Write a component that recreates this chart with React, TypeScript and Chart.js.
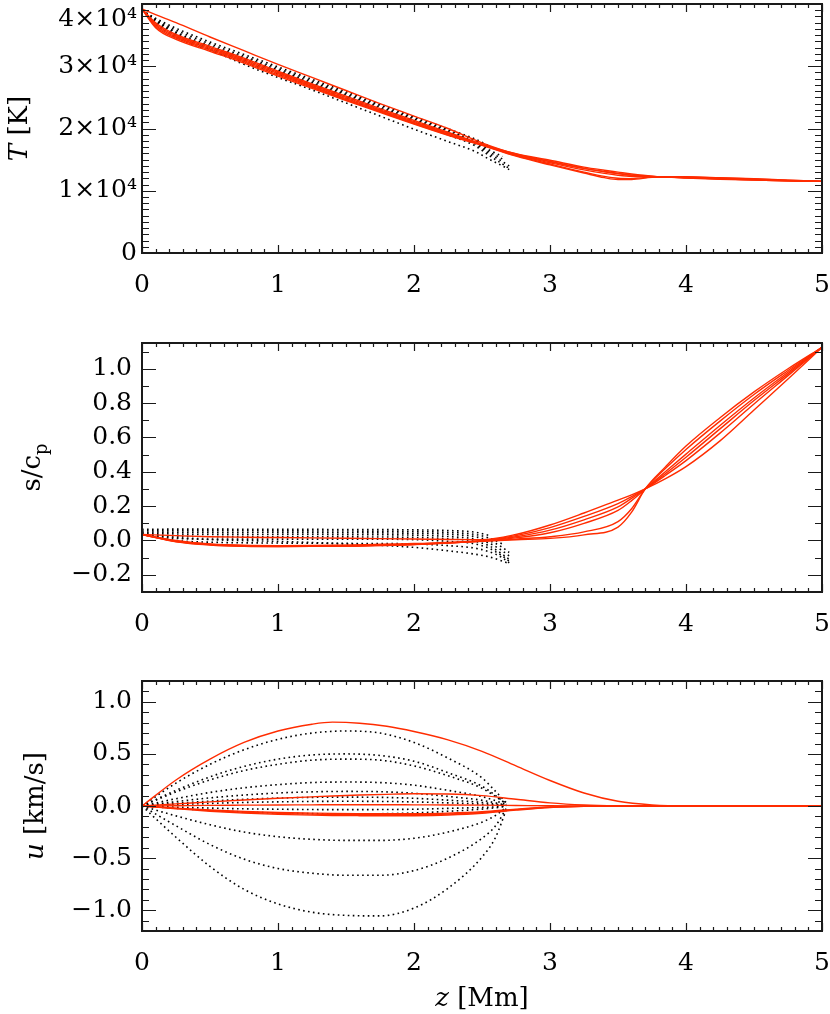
import { useEffect, useRef } from 'react';
import { Chart, registerables } from 'chart.js';

Chart.register(...registerables);

const RED = 'rgb(255,44,0)';
const FONT = '"DejaVu Serif", "Liberation Serif", serif';

// ---------- Panel 1: temperature T [K] ----------
const Z_T_RED = [0, 0.1, 0.25, 0.5, 0.75, 1, 1.25, 1.5, 1.75, 2, 2.25, 2.5, 2.75, 3, 3.25, 3.4, 3.5, 3.6, 3.75, 4, 4.25, 4.5, 4.75, 5];
const T_RED_1 = [39200, 38300, 37000, 34700, 32500, 30300, 28200, 26100, 24000, 22000, 20000, 17700, 15900, 14700, 13600, 13100, 12800, 12500, 12300, 12100, 11900, 11750, 11600, 11500];
const T_RED_2 = [39200, 37000, 35100, 33200, 31300, 29200, 27150, 25200, 23200, 21300, 19400, 17500, 15950, 14900, 13800, 13300, 13000, 12700, 12350, 12050, 11850, 11700, 11580, 11500];
const T_RED_3 = [39200, 36800, 34900, 33000, 31100, 29000, 26950, 25000, 23000, 21100, 19250, 17450, 15850, 14700, 13600, 13050, 12750, 12500, 12300, 12100, 11900, 11750, 11600, 11500];
const T_RED_4 = [39200, 36600, 34700, 32800, 30900, 28800, 26750, 24800, 22850, 20950, 19100, 17400, 15750, 14500, 13350, 12800, 12500, 12300, 12250, 12150, 11950, 11800, 11620, 11500];
const T_RED_5 = [39200, 36400, 34500, 32600, 30700, 28600, 26600, 24650, 22700, 20800, 19000, 17350, 15650, 14300, 13000, 12300, 12000, 11950, 12200, 12200, 12050, 11880, 11680, 11500];
const T_RED_6 = [39200, 36200, 34300, 32400, 30500, 28400, 26450, 24500, 22600, 20700, 18900, 17300, 15550, 14150, 12850, 12100, 11800, 11800, 12150, 12250, 12100, 11920, 11700, 11500];

const Z_T_DOT = [0, 0.1, 0.25, 0.5, 0.75, 1, 1.25, 1.5, 1.75, 2, 2.25, 2.45, 2.55, 2.65, 2.7];
const T_DOT_1 = [39000, 37700, 36100, 33900, 31900, 29900, 27900, 25900, 23900, 21900, 19950, 18300, 17200, null, null];
const T_DOT_2 = [39000, 37500, 35800, 33600, 31600, 29650, 27650, 25650, 23700, 21700, 19750, 18100, 16900, null, null];
const T_DOT_3 = [39000, 37300, 35500, 33300, 31350, 29400, 27400, 25450, 23450, 21500, 19550, 17900, 16600, 15500, null];
const T_DOT_4 = [39000, 37100, 35200, 33050, 31100, 29200, 27200, 25250, 23250, 21300, 19400, 17700, 16300, 15100, null];
const T_DOT_5 = [39000, 36900, 34900, 32800, 30900, 29000, 27000, 25050, 23050, 21100, 19200, 17500, 16000, 14700, 14000];
const T_DOT_6 = [39000, 36700, 34600, 32550, 30650, 28750, 26750, 24800, 22800, 20850, 18950, 17200, 15700, 14300, 13600];
const T_DOT_7 = [39000, 37400, 35400, 32700, 30300, 28200, 26200, 24100, 22000, 19900, 17900, 16300, 15100, 14000, 13400];

// ---------- Panel 2: entropy s/c_p ----------
const Z_S_RED = [0, 0.25, 0.5, 0.75, 1, 1.5, 2, 2.5, 2.75, 3, 3.25, 3.5, 3.6, 3.7, 3.85, 4, 4.25, 4.5, 4.75, 5];
const S_RED_1 = [0.035, 0.028, 0.022, 0.019, 0.017, 0.013, 0.009, 0.005, 0.035, 0.09, 0.16, 0.235, 0.265, 0.3, 0.36, 0.43, 0.58, 0.76, 0.94, 1.125];
const S_RED_2 = [0.035, 0.0, -0.02, -0.028, -0.03, -0.027, -0.018, 0.0, 0.028, 0.075, 0.14, 0.215, 0.255, 0.3, 0.38, 0.465, 0.625, 0.795, 0.96, 1.125];
const S_RED_3 = [0.035, -0.003, -0.022, -0.03, -0.032, -0.029, -0.02, -0.002, 0.022, 0.06, 0.12, 0.195, 0.245, 0.3, 0.39, 0.485, 0.65, 0.815, 0.97, 1.125];
const S_RED_4 = [0.035, -0.005, -0.024, -0.032, -0.034, -0.031, -0.022, -0.003, 0.015, 0.045, 0.1, 0.175, 0.232, 0.3, 0.402, 0.503, 0.67, 0.83, 0.98, 1.125];
const S_RED_5 = [0.035, -0.006, -0.025, -0.033, -0.035, -0.032, -0.023, -0.004, 0.008, 0.022, 0.05, 0.11, 0.185, 0.3, 0.42, 0.53, 0.695, 0.85, 0.99, 1.125];
const S_RED_6 = [0.035, -0.007, -0.026, -0.034, -0.036, -0.033, -0.024, -0.005, 0.004, 0.012, 0.033, 0.078, 0.165, 0.3, 0.43, 0.55, 0.715, 0.865, 1.0, 1.125];

const Z_S_DOT = [0, 0.25, 0.5, 1, 1.5, 2, 2.25, 2.45, 2.55, 2.65, 2.7];
const S_DOT_1 = [0.065, 0.066, 0.066, 0.065, 0.064, 0.062, 0.058, 0.048, 0.03, null, null];
const S_DOT_2 = [0.058, 0.057, 0.057, 0.056, 0.055, 0.052, 0.047, 0.035, 0.015, -0.02, null];
const S_DOT_3 = [0.05, 0.048, 0.047, 0.046, 0.045, 0.042, 0.036, 0.022, 0.0, -0.04, -0.07];
const S_DOT_4 = [0.045, 0.038, 0.036, 0.035, 0.034, 0.031, 0.023, 0.008, -0.015, -0.06, -0.09];
const S_DOT_5 = [0.04, 0.026, 0.023, 0.022, 0.021, 0.018, 0.01, -0.005, -0.03, -0.08, -0.11];
const S_DOT_6 = [0.035, 0.012, 0.008, 0.008, 0.008, 0.005, -0.005, -0.02, -0.045, -0.09, -0.12];
const S_DOT_7 = [0.035, 0.0, -0.01, -0.015, -0.017, -0.02, -0.03, -0.045, -0.065, -0.1, -0.13];
const S_DOT_8 = [0.035, 0.018, 0.005, -0.005, -0.02, -0.04, -0.06, -0.08, -0.095, -0.12, -0.135];

// ---------- Panel 3: velocity u [km/s] ----------
const Z_U_RED = [0, 0.25, 0.5, 0.75, 1, 1.25, 1.4, 1.6, 1.8, 2, 2.25, 2.5, 2.75, 3, 3.25, 3.5, 3.75, 4, 4.5, 5];
const U_RED_1 = [0, 0.25, 0.45, 0.61, 0.72, 0.785, 0.805, 0.795, 0.765, 0.715, 0.635, 0.525, 0.385, 0.245, 0.125, 0.045, 0.01, 0, 0, 0];
const U_RED_2 = [0, 0.02, 0.04, 0.058, 0.074, 0.088, 0.096, 0.105, 0.112, 0.117, 0.115, 0.1, 0.065, 0.03, 0.01, 0.002, 0, 0, 0, 0];
const U_RED_3 = [0, 0.003, 0.006, 0.008, 0.01, 0.011, 0.012, 0.012, 0.012, 0.011, 0.01, 0.008, 0.005, 0.002, 0.001, 0, 0, 0, 0, 0];
const U_RED_4 = [0, -0.02, -0.038, -0.052, -0.062, -0.068, -0.071, -0.073, -0.074, -0.073, -0.068, -0.055, -0.03, -0.01, -0.002, 0, 0, 0, 0, 0];
const U_RED_5 = [0, -0.023, -0.044, -0.06, -0.071, -0.078, -0.081, -0.083, -0.084, -0.083, -0.077, -0.062, -0.035, -0.012, -0.003, 0, 0, 0, 0, 0];
const U_RED_6 = [0, -0.026, -0.05, -0.068, -0.08, -0.088, -0.091, -0.093, -0.094, -0.093, -0.086, -0.07, -0.04, -0.015, -0.004, 0, 0, 0, 0, 0];

const Z_U_DOT = [0, 0.25, 0.5, 0.75, 1, 1.25, 1.5, 1.75, 2, 2.25, 2.5, 2.6, 2.68];
const U_DOT_1 = [0, 0.22, 0.4, 0.54, 0.64, 0.7, 0.72, 0.7, 0.61, 0.46, 0.27, 0.14, 0.03];
const U_DOT_2 = [0, 0.15, 0.28, 0.38, 0.45, 0.49, 0.5, 0.485, 0.43, 0.32, 0.19, 0.1, 0.02];
const U_DOT_3 = [0, 0.135, 0.25, 0.34, 0.4, 0.44, 0.45, 0.44, 0.385, 0.29, 0.17, 0.09, 0.02];
const U_DOT_4 = [0, 0.07, 0.13, 0.175, 0.205, 0.225, 0.23, 0.225, 0.2, 0.15, 0.09, 0.05, 0.01];
const U_DOT_5 = [0, 0.042, 0.078, 0.105, 0.125, 0.136, 0.14, 0.137, 0.122, 0.092, 0.055, 0.03, 0.006];
const U_DOT_6 = [0, 0.026, 0.047, 0.064, 0.076, 0.083, 0.085, 0.083, 0.074, 0.056, 0.034, 0.018, 0.004];
const U_DOT_7 = [0, 0.014, 0.025, 0.034, 0.04, 0.044, 0.045, 0.044, 0.039, 0.03, 0.018, 0.01, 0.002];
const U_DOT_8 = [0, -0.011, -0.02, -0.027, -0.031, -0.034, -0.035, -0.034, -0.031, -0.023, -0.014, -0.008, -0.001];
const U_DOT_9 = [0, -0.023, -0.042, -0.057, -0.067, -0.073, -0.075, -0.074, -0.067, -0.051, -0.03, -0.017, -0.003];
const U_DOT_10 = [0, -0.095, -0.18, -0.25, -0.295, -0.32, -0.33, -0.33, -0.31, -0.25, -0.155, -0.09, -0.01];
const U_DOT_11 = [0, -0.19, -0.37, -0.51, -0.6, -0.645, -0.665, -0.665, -0.62, -0.5, -0.31, -0.19, -0.02];
const U_DOT_12 = [0, -0.3, -0.58, -0.8, -0.94, -1.02, -1.05, -1.055, -0.98, -0.79, -0.49, -0.3, -0.03];

// ---------- axis definitions ----------
const X_MIN = 0;
const X_MAX = 5;
const X_STEP = 1;
const X_MINOR = 0.1;
const TICK_FONT_SIZE = 25;
const TITLE_FONT_SIZE = 26;

type Part = { t: string; it?: boolean; sub?: boolean; sup?: boolean };

function drawRich(ctx: CanvasRenderingContext2D, parts: Part[], x: number, y: number, size: number, rotated: boolean) {
  ctx.save();
  ctx.translate(x, y);
  if (rotated) ctx.rotate(-Math.PI / 2);
  const fontFor = (p: Part) => `${p.it ? 'italic ' : ''}${p.sub || p.sup ? Math.round(size * 0.68) : size}px ${FONT}`;
  let total = 0;
  const widths = parts.map((p) => {
    ctx.font = fontFor(p);
    const w = ctx.measureText(p.t).width;
    total += w;
    return w;
  });
  let cx = -total / 2;
  ctx.textAlign = 'left';
  ctx.textBaseline = 'alphabetic';
  ctx.fillStyle = '#000';
  parts.forEach((p, i) => {
    ctx.font = fontFor(p);
    ctx.fillText(p.t, cx, p.sub ? size * 0.28 : p.sup ? -size * 0.45 : 0);
    cx += widths[i];
  });
  ctx.restore();
}

type Series = { z: number[]; v: (number | null)[]; dotted: boolean };

type PanelDef = {
  top: number;
  height: number;
  plotTop: number;
  plotBottom: number;
  yMin: number;
  yMax: number;
  yStep: number;
  yMinor: number;
  yLabelPad: number;
  yFmt: (v: number) => string | string[];
  title: Part[];
  titleX: number;
  xTitle?: Part[];
  xTitleY?: number;
  series: Series[];
};

// the top label of the T axis is pushed inside the window, as in the original plot
const fmtT = (v: number) => (v === 0 ? '0' : v >= 40000 ? ['', `${Math.round(v / 10000)}×10⁴`] : `${Math.round(v / 10000)}×10⁴`);
const fmt1 = (v: number) => (Math.abs(v) < 1e-9 ? '0.0' : v < 0 ? `−${(-v).toFixed(1)}` : v.toFixed(1));

const red = (z: number[], v: (number | null)[]): Series => ({ z, v, dotted: false });
const dot = (z: number[], v: (number | null)[]): Series => ({ z, v, dotted: true });

const PANELS: PanelDef[] = [
  {
    top: 0,
    height: 330,
    plotTop: 4,
    plotBottom: 253,
    yMin: 0,
    yMax: 40000,
    yStep: 10000,
    yMinor: 1000,
    yLabelPad: 5,
    yFmt: fmtT,
    title: [{ t: 'T', it: true }, { t: ' [K]' }],
    titleX: 27,
    series: [
      red(Z_T_RED, T_RED_1), red(Z_T_RED, T_RED_2), red(Z_T_RED, T_RED_3),
      red(Z_T_RED, T_RED_4), red(Z_T_RED, T_RED_5), red(Z_T_RED, T_RED_6),
      dot(Z_T_DOT, T_DOT_1), dot(Z_T_DOT, T_DOT_2), dot(Z_T_DOT, T_DOT_3), dot(Z_T_DOT, T_DOT_4),
      dot(Z_T_DOT, T_DOT_5), dot(Z_T_DOT, T_DOT_6), dot(Z_T_DOT, T_DOT_7),
    ],
  },
  {
    top: 330,
    height: 330,
    plotTop: 13,
    plotBottom: 262,
    yMin: -0.3,
    yMax: 1.15,
    yStep: 0.2,
    yMinor: 0.1,
    yLabelPad: 10,
    yFmt: fmt1,
    title: [{ t: 's/c' }, { t: 'p', sub: true }],
    titleX: 40,
    series: [
      red(Z_S_RED, S_RED_1), red(Z_S_RED, S_RED_2), red(Z_S_RED, S_RED_3),
      red(Z_S_RED, S_RED_4), red(Z_S_RED, S_RED_5), red(Z_S_RED, S_RED_6),
      dot(Z_S_DOT, S_DOT_1), dot(Z_S_DOT, S_DOT_2), dot(Z_S_DOT, S_DOT_3), dot(Z_S_DOT, S_DOT_4),
      dot(Z_S_DOT, S_DOT_5), dot(Z_S_DOT, S_DOT_6), dot(Z_S_DOT, S_DOT_7), dot(Z_S_DOT, S_DOT_8),
    ],
  },
  {
    top: 660,
    height: 354,
    plotTop: 21,
    plotBottom: 271,
    yMin: -1.2,
    yMax: 1.2,
    yStep: 0.5,
    yMinor: 0.1,
    yLabelPad: 10,
    yFmt: fmt1,
    title: [{ t: 'u', it: true }, { t: ' [km/s]' }],
    titleX: 43,
    xTitle: [{ t: 'z', it: true }, { t: ' [Mm]' }],
    xTitleY: 346,
    series: [
      red(Z_U_RED, U_RED_1), red(Z_U_RED, U_RED_2), red(Z_U_RED, U_RED_3),
      red(Z_U_RED, U_RED_4), red(Z_U_RED, U_RED_5), red(Z_U_RED, U_RED_6),
      dot(Z_U_DOT, U_DOT_1), dot(Z_U_DOT, U_DOT_2), dot(Z_U_DOT, U_DOT_3), dot(Z_U_DOT, U_DOT_4),
      dot(Z_U_DOT, U_DOT_5), dot(Z_U_DOT, U_DOT_6), dot(Z_U_DOT, U_DOT_7), dot(Z_U_DOT, U_DOT_8),
      dot(Z_U_DOT, U_DOT_9), dot(Z_U_DOT, U_DOT_10), dot(Z_U_DOT, U_DOT_11), dot(Z_U_DOT, U_DOT_12),
    ],
  },
];

function PanelChart({ p }: { p: PanelDef }) {
  const ref = useRef<HTMLCanvasElement>(null);
  useEffect(() => {
    const canvas = ref.current;
    if (!canvas) return;
    const framePlugin = {
      id: 'idlFrame',
      afterDraw(chart: any) {
        const { ctx, chartArea: a } = chart;
        const xs = chart.scales.x;
        const ys = chart.scales.y;
        ctx.save();
        ctx.strokeStyle = '#1a1a1a';
        ctx.lineWidth = 1.2;
        ctx.beginPath();
        const nx = Math.round((X_MAX - X_MIN) / X_MINOR);
        for (let i = 0; i <= nx; i++) {
          const v = X_MIN + i * X_MINOR;
          const px = Math.round(xs.getPixelForValue(v)) + 0.5;
          const L = i % Math.round(X_STEP / X_MINOR) === 0 ? 8 : 4;
          ctx.moveTo(px, a.bottom);
          ctx.lineTo(px, a.bottom - L);
          ctx.moveTo(px, a.top);
          ctx.lineTo(px, a.top + L);
        }
        const k0 = Math.ceil(p.yMin / p.yMinor - 1e-6);
        const k1 = Math.floor(p.yMax / p.yMinor + 1e-6);
        for (let k = k0; k <= k1; k++) {
          const v = k * p.yMinor;
          const r = v / p.yStep;
          const major = Math.abs(r - Math.round(r)) < 1e-6;
          const L = major ? 14 : 7;
          const py = Math.round(ys.getPixelForValue(v)) + 0.5;
          ctx.moveTo(a.left, py);
          ctx.lineTo(a.left + L, py);
          ctx.moveTo(a.right, py);
          ctx.lineTo(a.right - L, py);
        }
        ctx.stroke();
        ctx.lineWidth = 2;
        ctx.strokeRect(a.left, a.top, a.right - a.left, a.bottom - a.top);
        ctx.restore();
        drawRich(ctx, p.title, p.titleX, (a.top + a.bottom) / 2, TITLE_FONT_SIZE, true);
        if (p.xTitle && p.xTitleY) drawRich(ctx, p.xTitle, (a.left + a.right) / 2, p.xTitleY, TITLE_FONT_SIZE, false);
      },
    };
    const datasets = p.series.map((s) => ({
      data: s.z.map((x, i) => ({ x, y: s.v[i] })),
      borderColor: s.dotted ? '#000' : RED,
      borderWidth: s.dotted ? 1.6 : 1.4,
      borderDash: s.dotted ? [1.6, 3.4] : [],
      pointRadius: 0,
      pointHoverRadius: 0,
      fill: false,
      spanGaps: false,
      cubicInterpolationMode: 'monotone' as const,
    }));
    const chart = new Chart(canvas, {
      type: 'line',
      data: { datasets: datasets as any },
      options: {
        responsive: false,
        animation: false,
        devicePixelRatio: 1,
        events: [],
        layout: { padding: { left: 0, right: 8, top: p.plotTop, bottom: 0 } },
        plugins: { legend: { display: false }, tooltip: { enabled: false } },
        scales: {
          x: {
            type: 'linear',
            min: X_MIN,
            max: X_MAX,
            grid: { display: false, drawTicks: false },
            border: { display: false },
            ticks: {
              stepSize: X_STEP,
              autoSkip: false,
              maxRotation: 0,
              padding: 17,
              color: '#000',
              font: { family: FONT, size: TICK_FONT_SIZE },
              callback: (v: any) => String(v),
            },
            afterFit: (s: any) => {
              s.height = p.height - p.plotBottom;
              s.paddingLeft = 0;
              s.paddingRight = 0;
            },
          },
          y: {
            type: 'linear',
            min: p.yMin,
            max: p.yMax,
            grid: { display: false, drawTicks: false },
            border: { display: false },
            ticks: {
              stepSize: p.yStep,
              includeBounds: false,
              autoSkip: false,
              padding: p.yLabelPad,
              color: '#000',
              font: { family: FONT, size: TICK_FONT_SIZE },
              callback: (v: any) => p.yFmt(Number(v)),
            },
            afterFit: (s: any) => {
              s.width = 142;
              s.paddingTop = 0;
              s.paddingBottom = 0;
            },
          },
        },
      } as any,
      plugins: [framePlugin],
    });
    return () => chart.destroy();
  }, [p]);
  return (
    <canvas
      ref={ref}
      width={830}
      height={p.height}
      style={{ position: 'absolute', left: 0, top: p.top, width: 830, height: p.height }}
    />
  );
}

export default function App() {
  return (
    <div style={{ position: 'absolute', left: 0, top: 0, width: 830, height: 1014, background: '#fff', overflow: 'hidden' }}>
      {PANELS.map((p, i) => (
        <PanelChart key={i} p={p} />
      ))}
    </div>
  );
}
